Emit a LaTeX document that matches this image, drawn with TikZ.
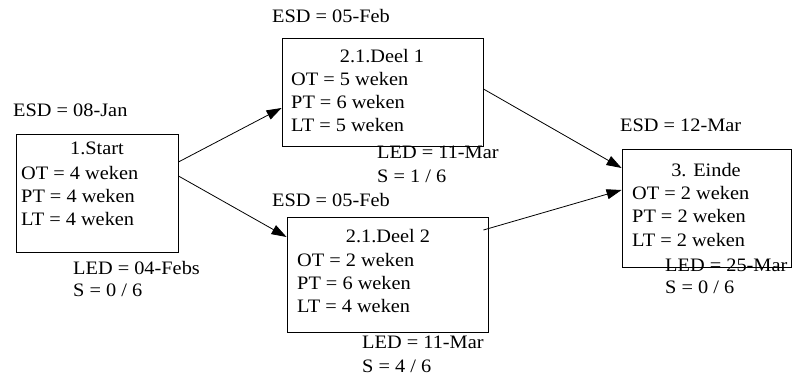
\documentclass[tikz,border=0pt]{standalone}
\usepackage{fontspec}
\setmainfont{Liberation Serif}[FakeStretch=1.07]
\usetikzlibrary{arrows.meta}
\tikzset{
  taskbox/.style={draw, line width=0.9pt, rectangle, inner sep=0pt},
  txt/.style={anchor=base west, inner sep=0pt, font=\fontsize{19}{23}\selectfont},
  ttl/.style={anchor=base, inner sep=0pt, font=\fontsize{19}{23}\selectfont},
  link/.style={line width=0.8pt, -{Triangle[length=15pt,width=10pt]}}
}
\begin{document}
\begin{tikzpicture}[x=1pt, y=-1pt]
\useasboundingbox (0,0) rectangle (792,379);

% task boxes
\node[taskbox, minimum width=162pt, minimum height=118pt] (b1) at (97,193) {};
\node[taskbox, minimum width=201pt, minimum height=108pt] (b2) at (382.5,92) {};
\node[taskbox, minimum width=201pt, minimum height=115pt] (b3) at (387.5,274.5) {};
\node[taskbox, minimum width=169pt, minimum height=118pt] (b4) at (706.5,208) {};

% 1.Start
\node[txt] (esd1) at (13,117) {ESD = 08-Jan};
\node[ttl] (t1) at (97,155) {1.Start};
\node[txt] (ot1) at (21,180) {OT = 4 weken};
\node[txt] (pt1) at (21,203) {PT = 4 weken};
\node[txt] (lt1) at (21,226) {LT = 4 weken};
\node[txt] (led1) at (73,275) {LED = 04-Febs};
\node[txt] (s1) at (73,296) {S = 0 / 6};

% 2.1.Deel 1
\node[txt] (esd2) at (272,23) {ESD = 05-Feb};
\node[ttl] (t2) at (382,63) {2.1.Deel 1};
\node[txt] (ot2) at (291,86) {OT = 5 weken};
\node[txt] (pt2) at (291,109) {PT = 6 weken};
\node[txt] (lt2) at (291,132) {LT = 5 weken};
\node[txt] (led2) at (377,159) {LED = 11-Mar};
\node[txt] (s2) at (377,183) {S = 1 / 6};

% 2.1.Deel 2
\node[txt] (esd3) at (272,207) {ESD = 05-Feb};
\node[ttl] (t3) at (388,243) {2.1.Deel 2};
\node[txt] (ot3) at (297,266) {OT = 2 weken};
\node[txt] (pt3) at (297,289) {PT = 6 weken};
\node[txt] (lt3) at (297,312) {LT = 4 weken};
\node[txt] (led3) at (362,348) {LED = 11-Mar};
\node[txt] (s3) at (362,372) {S = 4 / 6};

% 3. Einde
\node[txt] (esd4) at (620,132) {ESD = 12-Mar};
\node[ttl] (t4) at (706,177) {3. Einde};
\node[txt] (ot4) at (632,200) {OT = 2 weken};
\node[txt] (pt4) at (632,223) {PT = 2 weken};
\node[txt] (lt4) at (632,247) {LT = 2 weken};
\node[txt] (led4) at (665,272) {LED = 25-Mar};
\node[txt] (s4) at (665,293) {S = 0 / 6};

% dependencies
\draw[link] ([yshift=31pt]b1.east) -- ([yshift=-16pt]b2.west);
\draw[link] ([yshift=17pt]b1.east) -- ([yshift=37.5pt]b3.west);
\draw[link] ([yshift=3pt]b2.east) -- ([yshift=40pt]b4.west);
\draw[link] ([xshift=-5pt,yshift=44.5pt]b3.east) -- ([yshift=18pt]b4.west);
\end{tikzpicture}
\end{document}
